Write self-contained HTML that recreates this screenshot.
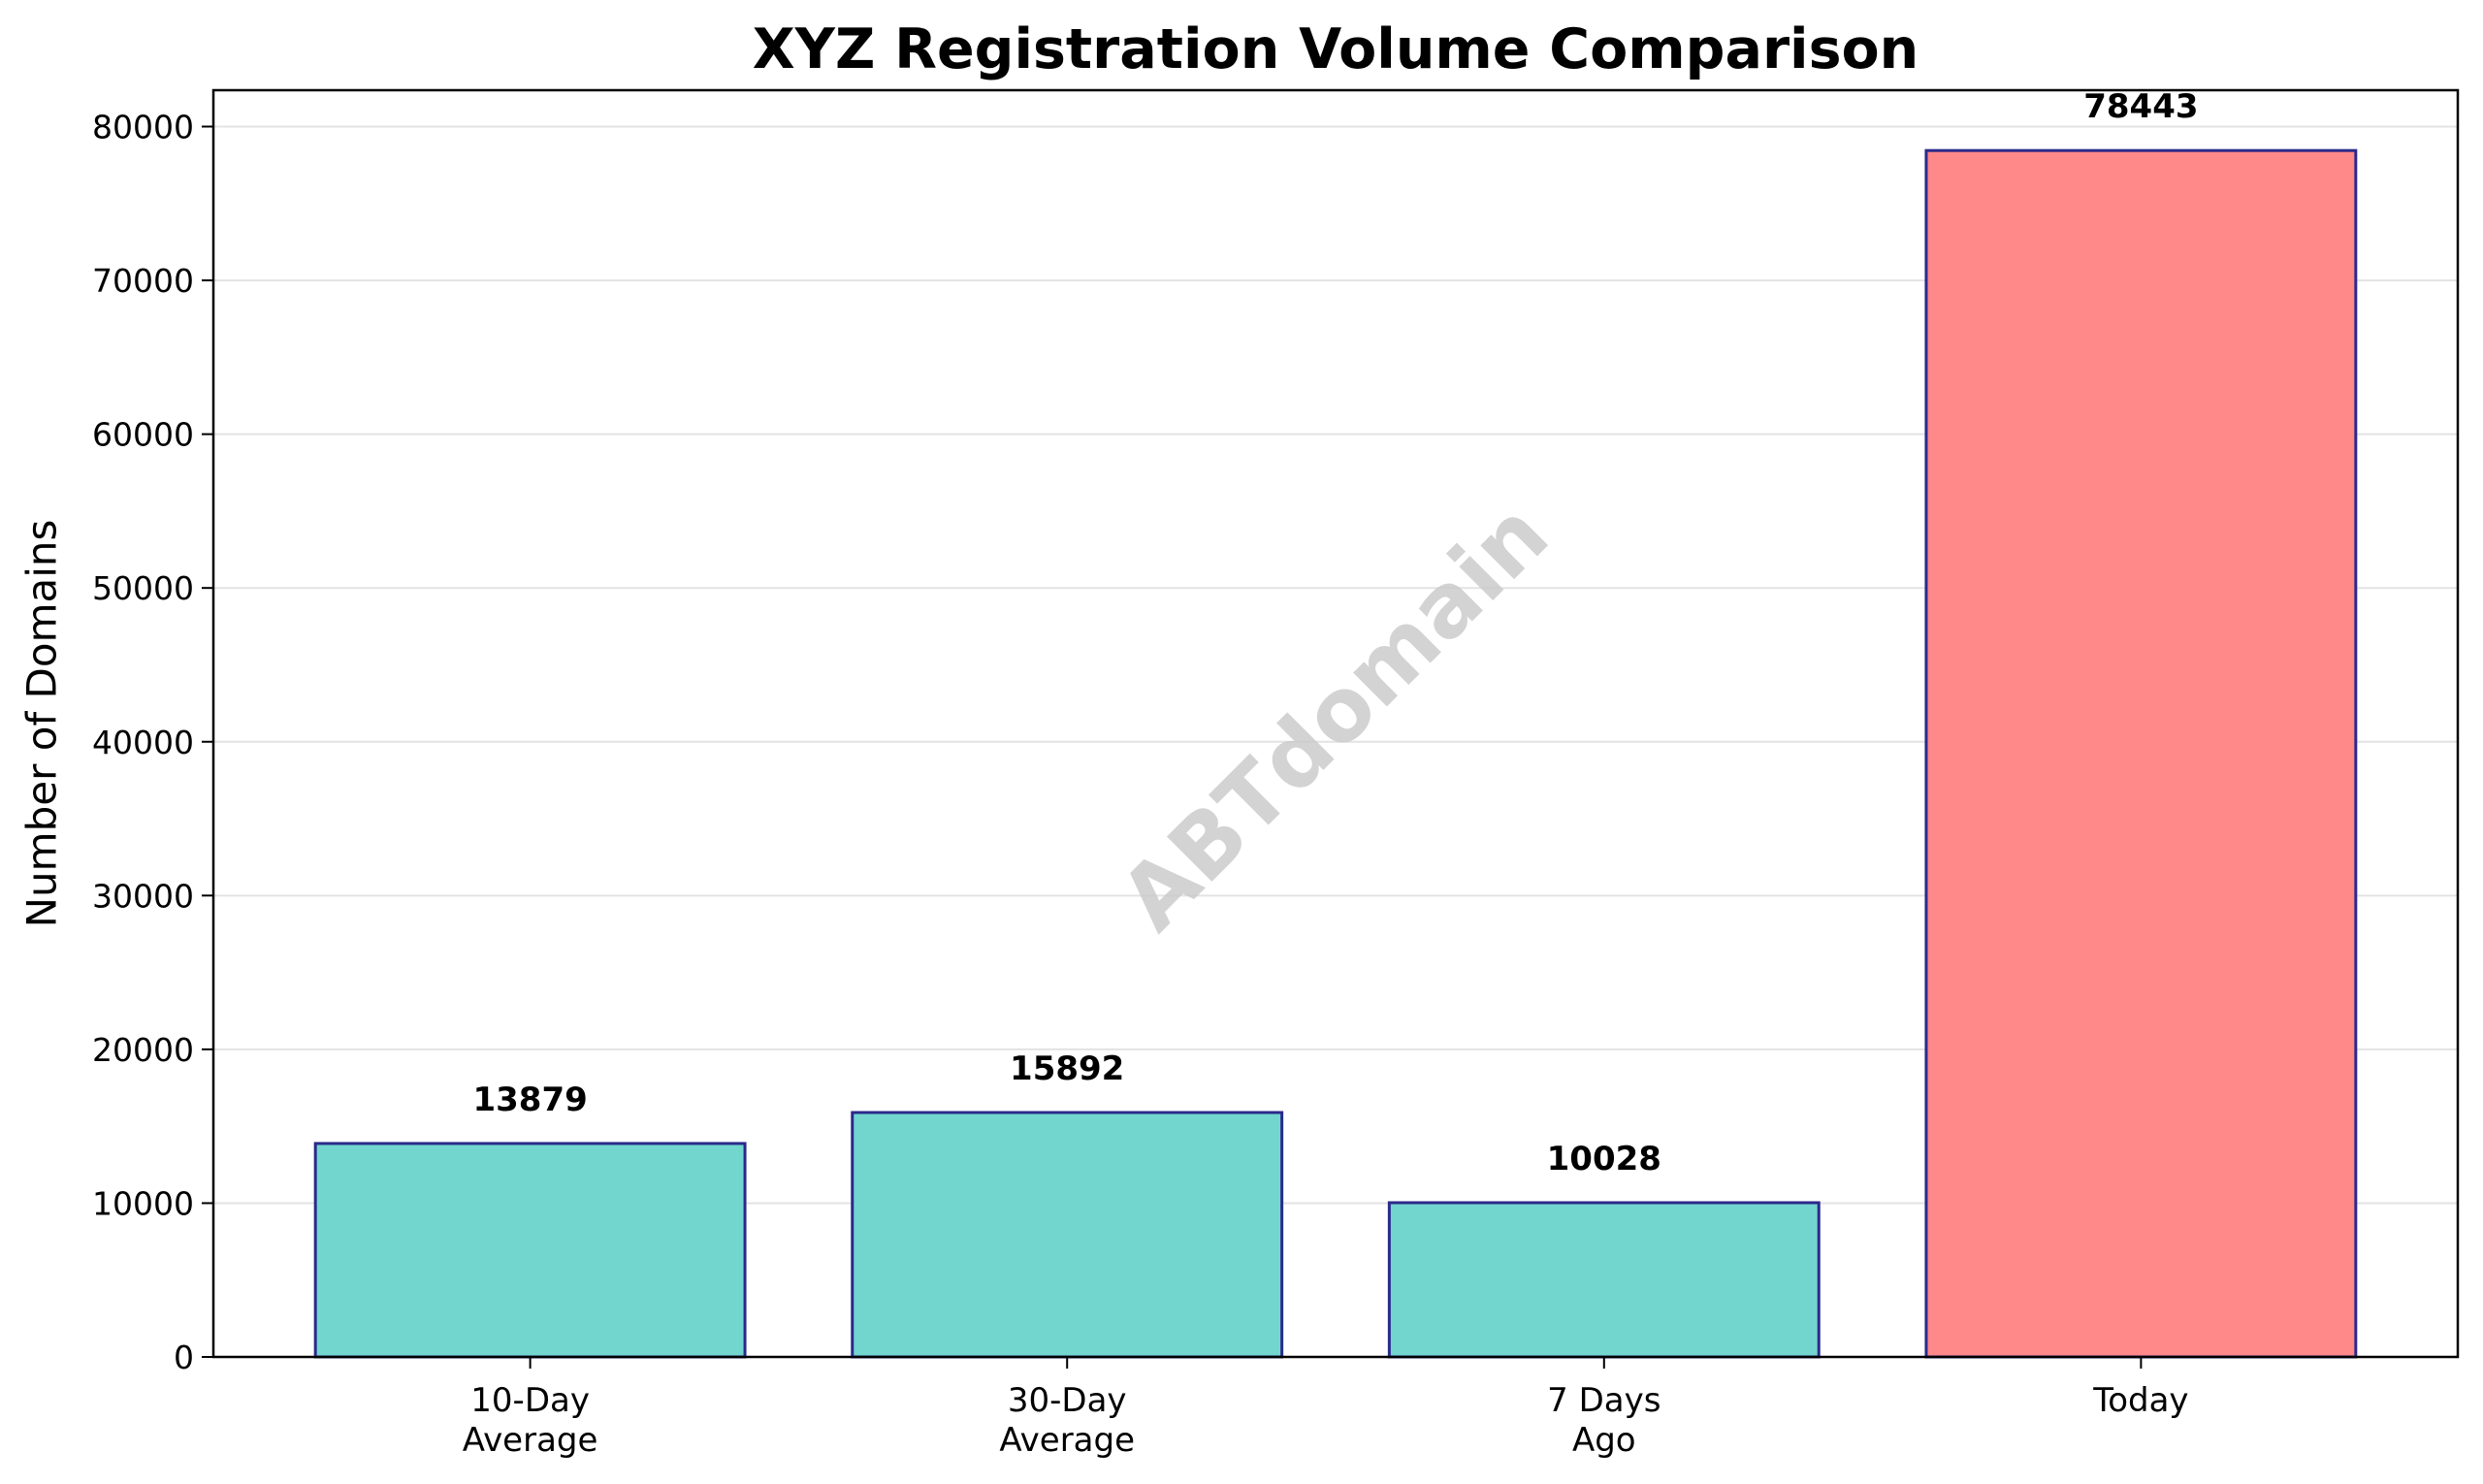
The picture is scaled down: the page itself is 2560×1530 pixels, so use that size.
<!DOCTYPE html>
<html><head><meta charset="utf-8"><style>
html,body{margin:0;padding:0;background:#fff;}
svg{display:block;font-family:"DejaVu Sans","Liberation Sans",sans-serif;}
</style></head><body>
<svg id="chart" width="2560" height="1530" viewBox="0 0 2560 1530" xmlns="http://www.w3.org/2000/svg"></svg>
<script>
const categories = [["10-Day","Average"],["30-Day","Average"],["7 Days","Ago"],["Today"]];
const values = [13879, 15892, 10028, 78443];
const barColors = ["#72d6cf","#72d6cf","#72d6cf","#ff8888"];
const yTicks = [0,10000,20000,30000,40000,50000,60000,70000,80000];

const L=220,R=2534,T=93,B=1399;
const yMax = Math.max(...values)*1.05;
const xMin=-0.59, xMax=3.59;
const y = v => B - (v/yMax)*(B-T);
const x = i => L + (i-xMin)/(xMax-xMin)*(R-L);
const NS="http://www.w3.org/2000/svg";
const svg=document.getElementById('chart');
function mk(tag, attrs, text){const e=document.createElementNS(NS,tag);for(const k in attrs)e.setAttribute(k,attrs[k]);if(text!==undefined)e.textContent=text;svg.appendChild(e);return e;}

let t=mk('text',{x:(L+R)/2,y:70,'text-anchor':'middle','font-size':57,'font-weight':'bold',fill:'#000'},'XYZ Registration Volume Comparison');



yTicks.forEach(v=>{
  const g=mk('line',{x1:L,x2:R,y1:y(v),y2:y(v),stroke:'#e3e3e3','stroke-width':2});
  
  
  const tk=mk('line',{x1:L-12,x2:L,y1:y(v),y2:y(v),stroke:'#000','stroke-width':2});
  
  
  const lb=mk('text',{x:L-20,y:y(v)+12,'text-anchor':'end','font-size':33,fill:'#000'},String(v));
  
  
});

const wm=mk('text',{x:1380,y:743,'text-anchor':'middle','dominant-baseline':'middle','font-size':90,'font-weight':'bold',fill:'#c8c8c8','fill-opacity':0.8,transform:'rotate(-45 1380 743)'},'ABTdomain');



values.forEach((v,i)=>{
  const w=(x(0.4)-x(0));
  const r=mk('rect',{x:x(i)-w,y:y(v),width:2*w,height:B-y(v),fill:barColors[i],stroke:'#2a2a8a','stroke-width':3});
  
  
  const vl=mk('text',{x:x(i),y:y(v)-34,'text-anchor':'middle','font-size':34,'font-weight':'bold',fill:'#000'},String(v));
  
  
  const tk=mk('line',{x1:x(i),x2:x(i),y1:B,y2:B+12,stroke:'#000','stroke-width':2});
  
  
  categories[i].forEach((ln,j)=>{
    const cl=mk('text',{x:x(i),y:1455+j*41,'text-anchor':'middle','font-size':34,fill:'#000'},ln);
    
    
  });
});

const frame=mk('rect',{x:L,y:T,width:R-L,height:B-T,fill:'none',stroke:'#000','stroke-width':2.5});



const yl=mk('text',{x:46,y:746,'text-anchor':'middle','dominant-baseline':'middle','font-size':42,fill:'#000',transform:'rotate(-90 46 746)'},'Number of Domains');


</script>
</body></html>
